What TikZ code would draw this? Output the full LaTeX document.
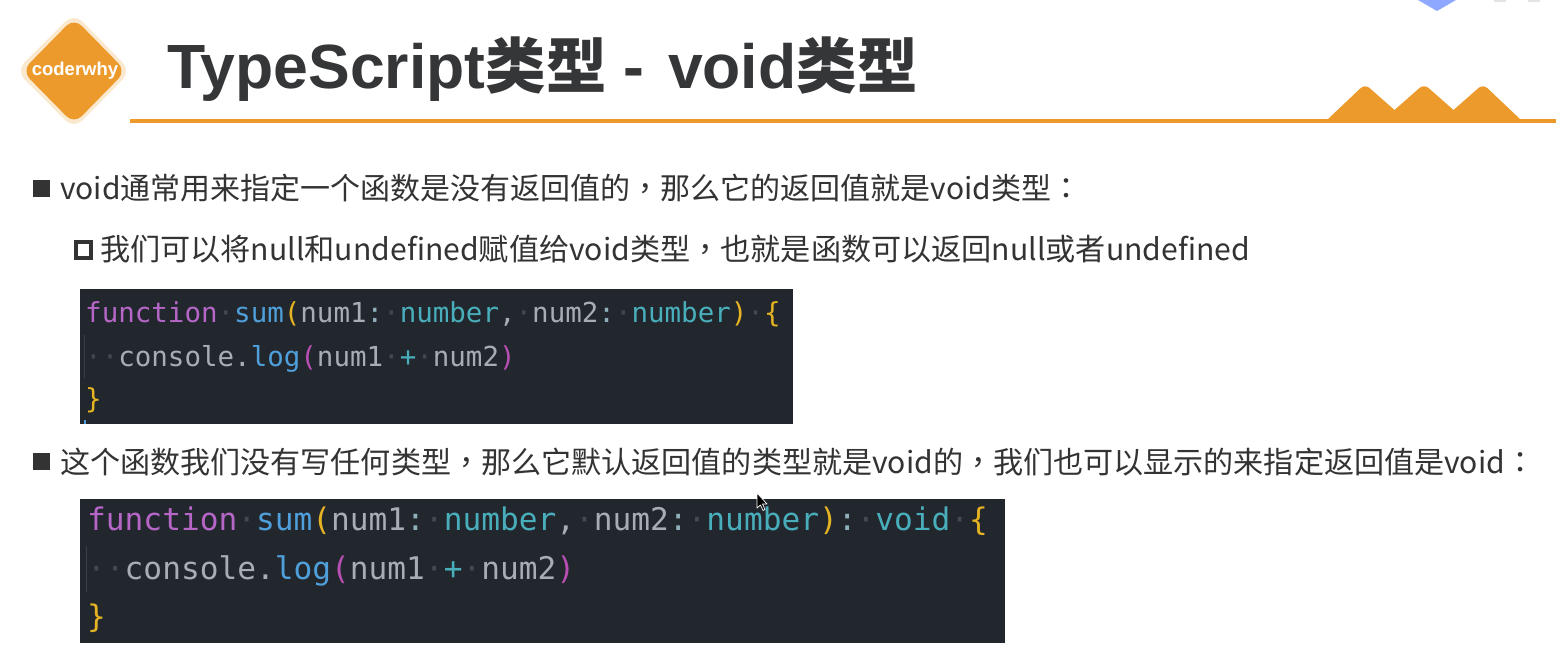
\documentclass[tikz,border=0pt]{standalone}
\usepackage{fontspec}
\setmainfont{Noto Sans CJK SC}
\newfontfamily\tcp{Noto Sans CJK TC}
\newfontfamily\codefont{DejaVu Sans Mono}
\newfontfamily\logofont{Liberation Sans}
\definecolor{orangeA}{HTML}{EC9A2C}
\definecolor{haloA}{HTML}{FBE9CF}
\definecolor{inkA}{HTML}{353638}
\definecolor{bodyA}{HTML}{333333}
\definecolor{codebg}{HTML}{22262D}
\definecolor{cKey}{HTML}{B566C6}
\definecolor{cFun}{HTML}{4F9FDA}
\definecolor{cTyp}{HTML}{49AEBB}
\definecolor{cTxt}{HTML}{A8ACB3}
\definecolor{cCol}{HTML}{8FB0B8}
\definecolor{cYel}{HTML}{E6B422}
\definecolor{cPnk}{HTML}{B84FB5}
\definecolor{cDot}{HTML}{434852}
\definecolor{cGuide}{HTML}{3A3E46}
\definecolor{cTop}{HTML}{8EA8FF}
\definecolor{cSmudge}{HTML}{E4E4E4}
\newcommand{\dotsp}{\textcolor{cDot}{·}}
\newcommand{\kw}[1]{\textcolor{cKey}{#1}}
\newcommand{\fn}[1]{\textcolor{cFun}{#1}}
\newcommand{\ty}[1]{\textcolor{cTyp}{#1}}
\newcommand{\tx}[1]{\textcolor{cTxt}{#1}}
\newcommand{\ye}[1]{\textcolor{cYel}{#1}}
\newcommand{\pk}[1]{\textcolor{cPnk}{#1}}
\newcommand{\cl}{\textcolor{cCol}{:}}
\newcommand{\lat}[1]{{\logofont\fontsize{62.5}{70}\selectfont #1}}
\tikzset{
  bodytext/.style={anchor=base west,inner sep=0pt,text=bodyA},
  codeA/.style={anchor=base west,inner sep=0pt,font=\codefont\fontsize{27.5}{32}\selectfont},
  codeB/.style={anchor=base west,inner sep=0pt,font=\codefont\fontsize{31.17}{36}\selectfont},
}
\begin{document}
\begin{tikzpicture}[x=1pt,y=-1pt]
\useasboundingbox (0,0) rectangle (1556,666);
\fill[white] (0,0) rectangle (1556,666);
% top-edge residue
\fill[cTop] (1418,0) -- (1456,0) -- (1437,11) -- cycle;
\fill[cSmudge] (1494,0) rectangle (1506,2);
\fill[cSmudge] (1528,0) rectangle (1540,2);
% logo
\fill[haloA,rounded corners=12pt] (74,13) -- (131,71) -- (74,129) -- (16,71) -- cycle;
\fill[orangeA,rounded corners=11pt] (74,18) -- (126,71) -- (74,124) -- (22,71) -- cycle;
\node[text=white,inner sep=0pt,font=\logofont\bfseries\fontsize{18.5}{22}\selectfont] (logo) at (75,71) {coderwhy};
% title
\node[anchor=base west,inner sep=0pt,text=inkA,font=\bfseries\fontsize{60.5}{70}\selectfont] (title) at (167,89) {\lat{TypeScript}类型\lat{\ -\ \hspace{6pt}void}类型};
% rule and mountains
\fill[orangeA] (130,119) rectangle (1556,123);
\fill[orangeA] (1327,120) [rounded corners=6pt] -- (1365,84) [sharp corners] -- (1394.5,110) [rounded corners=6pt] -- (1424,84) [sharp corners] -- (1453.5,110) [rounded corners=6pt] -- (1483,84) [sharp corners] -- (1521,120) -- cycle;
% bullets
\fill[bodyA] (33,180) rectangle (50,197);
\draw[bodyA,line width=4pt] (76,242) rectangle (91,258);
\fill[bodyA] (33,453) rectangle (50,470);
% texts
\node[bodytext,font=\fontsize{30}{34}\selectfont] (l1) at (60,200) {void通常用来指定一个函数是没有返回值的{\tcp ，}那么它的返回值就是void类型{\tcp ：}};
\node[bodytext,font=\fontsize{30.15}{34}\selectfont] (l2) at (100,260) {我们可以将null和undefined赋值给void类型{\tcp ，}也就是函数可以返回null或者undefined};
\node[bodytext,font=\fontsize{30.08}{34}\selectfont] (l3) at (60,473) {这个函数我们没有写任何类型{\tcp ，}那么它默认返回值的类型就是void的{\tcp ，}我们也可以显示的来指定返回值是void{\tcp ：}};
% code block 1
\fill[codebg] (80,289) rectangle (793,424);
\fill[cGuide] (84,335) rectangle (85,378);
\fill[cFun] (84,420) rectangle (86,424);
\node[codeA] (a1) at (85,322) {\kw{function}\dotsp\fn{sum}\ye{(}\tx{num1}\cl\dotsp\ty{number}\tx{,}\dotsp\tx{num2}\cl\dotsp\ty{number}\ye{)}\dotsp\ye{\{}};
\node[codeA] (a2) at (85,366) {\dotsp\dotsp\tx{console.}\fn{log}\pk{(}\tx{num1}\dotsp\ty{+}\dotsp\tx{num2}\pk{)}};
\node[codeA] (a3) at (85,408) {\ye{\}}};
% code block 2
\fill[codebg] (80,499) rectangle (1005,643);
\fill[cGuide] (86,546) rectangle (87,592);
\node[codeB] (b1) at (87,530) {\kw{function}\dotsp\fn{sum}\ye{(}\tx{num1}\cl\dotsp\ty{number}\tx{,}\dotsp\tx{num2}\cl\dotsp\ty{number}\ye{)}\cl\dotsp\ty{void}\dotsp\ye{\{}};
\node[codeB] (b2) at (87,579) {\dotsp\dotsp\tx{console.}\fn{log}\pk{(}\tx{num1}\dotsp\ty{+}\dotsp\tx{num2}\pk{)}};
\node[codeB] (b3) at (87,627) {\ye{\}}};
% mouse cursor
\draw[white,fill=black,line width=0.7pt,line join=round] (757,493) -- (757,508) -- (760.5,505) -- (763,510.5) -- (765,509.5) -- (762.5,504) -- (767,504) -- cycle;
\end{tikzpicture}
\end{document}
